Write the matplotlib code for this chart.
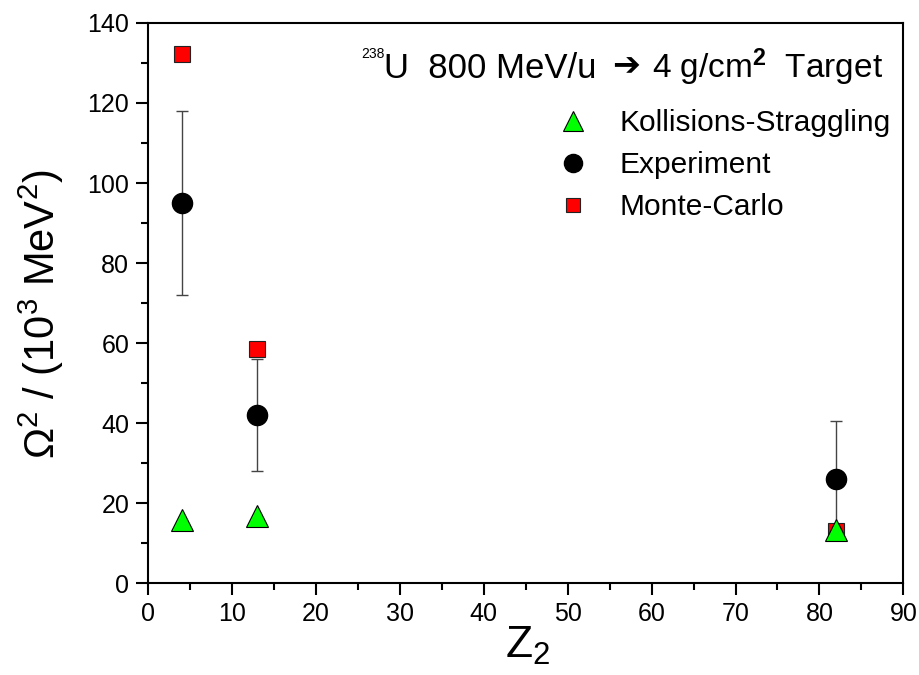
import matplotlib
matplotlib.use("Agg")
import matplotlib.pyplot as plt
from matplotlib.ticker import MultipleLocator

plt.rcParams["font.family"] = ["Liberation Sans", "DejaVu Sans"]
plt.rcParams["mathtext.fontset"] = "custom"
plt.rcParams["mathtext.rm"] = "Liberation Sans"
plt.rcParams["mathtext.it"] = "Liberation Sans:italic"
plt.rcParams["mathtext.bf"] = "Liberation Sans:bold"

# target Z2 and measured / computed straggling (10^3 MeV^2)
Z2 = [4, 13, 82]
experiment = [95.0, 42.0, 26.0]
exp_err = [23.0, 14.0, 14.5]
monte_carlo = [132.2, 58.5, 13.0]
collision = [15.7, 16.7, 13.2]

fig = plt.figure(figsize=(9.19, 6.75), dpi=100)
ax = fig.add_axes([0.161, 0.136, 0.822, 0.830])

ax.errorbar(Z2, experiment, yerr=exp_err, fmt="none", ecolor="#444444",
            elinewidth=1.0, capsize=4.5, capthick=1.0, zorder=2)
ax.plot(Z2, experiment, "o", color="black", ms=14.5, zorder=3, label="Experiment")
ax.plot(Z2, monte_carlo, "s", mfc="#ff0000", mec="#222222", mew=0.8, ms=11,
        zorder=4, label="Monte-Carlo")
ax.plot(Z2, collision, "^", mfc="#00ff00", mec="black", mew=0.8, ms=16,
        zorder=5, label="Kollisions-Straggling")

ax.set_xlim(0, 90)
ax.set_ylim(0, 140)
ax.xaxis.set_major_locator(MultipleLocator(10))
ax.xaxis.set_minor_locator(MultipleLocator(5))
ax.yaxis.set_major_locator(MultipleLocator(20))
ax.yaxis.set_minor_locator(MultipleLocator(10))
ax.tick_params(which="major", direction="out", length=8.5, width=1.5,
               labelsize=18, pad=5)
ax.tick_params(which="minor", direction="out", length=5, width=1.5)
for s in ax.spines.values():
    s.set_linewidth(1.5)

ax.set_xlabel("Z$_2$", fontsize=32)
ax.xaxis.set_label_coords(0.503, -0.075)
ax.set_ylabel("$\\Omega^2$ / (10$^3$ MeV$^2$)", fontsize=30)
ax.yaxis.set_label_coords(-0.108, 0.48)

# title in pieces: small mass number, heavy arrow from DejaVu Sans
ax.text(0.283, 0.9375, "238", transform=ax.transAxes,
        ha="left", va="baseline", fontsize=10)
ax.text(0.313, 0.902, "U  800 MeV/u", transform=ax.transAxes,
        ha="left", va="baseline", fontsize=25)
ax.text(0.633, 0.906, "\u2794", transform=ax.transAxes, family="DejaVu Sans",
        ha="center", va="baseline", fontsize=24)
ax.text(0.973, 0.902, "4 g/cm$^\\mathbf{2}$  Target", transform=ax.transAxes,
        ha="right", va="baseline", fontsize=24)

h, l = ax.get_legend_handles_labels()
order = [2, 0, 1]
ax.legend([h[i] for i in order], [l[i] for i in order], loc="upper left",
          bbox_to_anchor=(0.543, 0.846), frameon=False, fontsize=21.5,
          borderaxespad=0, borderpad=0, handlelength=1.0,
          labelspacing=0.47, handletextpad=1.05, markerscale=0.9)

fig.savefig("out.png", dpi=100)
